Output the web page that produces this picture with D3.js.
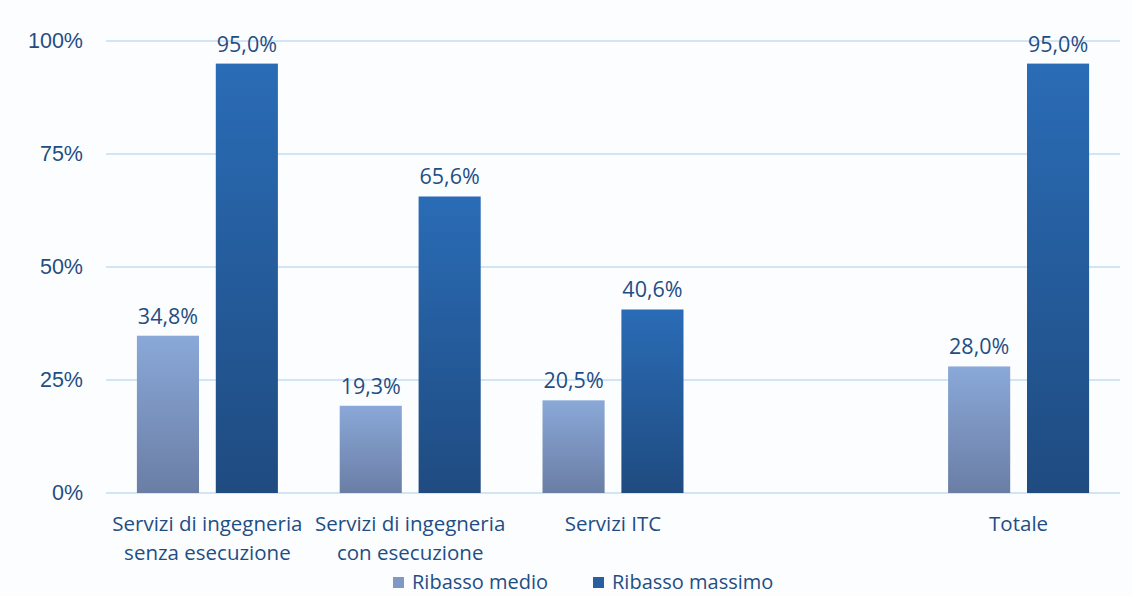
<!DOCTYPE html>
<html>
<head>
<meta charset="utf-8">
<script src="https://cdn.jsdelivr.net/npm/d3@7"></script>
<style>
  body { margin: 0; background: #fcfdff; }
  svg { display: block; font-family: "Open Sans", Lato, sans-serif; }
</style>
</head>
<body>
<svg id="chart" width="1132" height="596"></svg>
<script>
// data
var categories = [
  ["Servizi di ingegneria", "senza esecuzione"],
  ["Servizi di ingegneria", "con esecuzione"],
  ["Servizi ITC"],
  [""],
  ["Totale"]
];
var seriesNames = ["Ribasso medio", "Ribasso massimo"];
var ribassoMedio = [34.8, 19.3, 20.5, null, 28.0];
var ribassoMassimo = [95.0, 65.6, 40.6, null, 95.0];
var yTicks = [0, 25, 50, 75, 100];

var svg = d3.select("#chart"),
    margin = {top: 41, right: 12, bottom: 103, left: 106},
    width = +svg.attr("width") - margin.left - margin.right,
    height = +svg.attr("height") - margin.top - margin.bottom;

var textColor = "#1f4e84";

var defs = svg.append("defs");
function grad(id, top, bottom) {
  var g = defs.append("linearGradient").attr("id", id)
    .attr("x1", 0).attr("y1", 0).attr("x2", 0).attr("y2", 1);
  g.append("stop").attr("offset", "0%").attr("stop-color", top);
  g.append("stop").attr("offset", "100%").attr("stop-color", bottom);
}
grad("gMedio", "#8aa8d8", "#6a7ea5");
grad("gMassimo", "#2a6cb6", "#1f4b80");
var fills = ["url(#gMedio)", "url(#gMassimo)"];
var legendFills = ["#7f98c4", "#2a5f9e"];

var x0 = d3.scaleBand()
  .domain(d3.range(categories.length))
  .range([0, width]);

var x1 = d3.scaleBand()
  .domain([0, 1])
  .range([x0.bandwidth() / 2 - 70.5, x0.bandwidth() / 2 + 70.5])
  .paddingInner(15 / 141 * 2)
  .paddingOuter(0);

var y = d3.scaleLinear().domain([0, 100]).range([height, 0]);

var g = svg.append("g").attr("transform", "translate(" + margin.left + "," + margin.top + ")");

// grid
g.append("g").selectAll("line")
  .data(yTicks)
  .enter().append("line")
    .attr("x1", 0).attr("x2", width)
    .attr("y1", function(d) { return y(d); })
    .attr("y2", function(d) { return y(d); })
    .attr("stroke", "#c5dcf0")
    .attr("stroke-width", 1.5);

// y axis labels
var yAxis = d3.axisLeft(y).tickValues(yTicks)
  .tickFormat(function(d) { return d + "%"; })
  .tickSize(0).tickPadding(23);
var ya = g.append("g").call(yAxis);
ya.select(".domain").remove();
ya.selectAll("text")
  .attr("fill", textColor)
  .style("font-size", "21.5px");

var rows = categories.map(function(c, i) {
  return {i: i, vals: [ribassoMedio[i], ribassoMassimo[i]]};
}).filter(function(r) { return r.vals[0] !== null; });

var fmt = function(v) { return v.toFixed(1).replace(".", ",") + "%"; };

var cat = g.selectAll("g.cat")
  .data(rows)
  .enter().append("g")
    .attr("class", "cat")
    .attr("transform", function(d) { return "translate(" + x0(d.i) + ",0)"; });

var bars = cat.selectAll("g.bar")
  .data(function(d) { return d.vals.map(function(v, k) { return {k: k, v: v}; }); })
  .enter().append("g").attr("class", "bar");

bars.append("rect")
  .attr("x", function(d) { return x1(d.k); })
  .attr("width", x1.bandwidth())
  .attr("y", function(d) { return y(d.v); })
  .attr("height", function(d) { return height - y(d.v); })
  .attr("fill", function(d) { return fills[d.k]; });

bars.append("text")
  .attr("x", function(d) { return x1(d.k) + x1.bandwidth() / 2; })
  .attr("y", function(d) { return y(d.v) - 12; })
  .attr("text-anchor", "middle")
  .attr("fill", textColor)
  .style("font-size", "21.5px")
  .text(function(d) { return fmt(d.v); });

// category labels
var xl = g.append("g").attr("transform", "translate(0," + height + ")");
categories.forEach(function(lines, i) {
  var t = xl.append("text")
    .attr("x", x0(i) + x0.bandwidth() / 2)
    .attr("y", 38)
    .attr("text-anchor", "middle")
    .attr("fill", textColor)
    .style("font-size", "20.5px");
  lines.forEach(function(l, j) {
    t.append("tspan")
      .attr("x", x0(i) + x0.bandwidth() / 2)
      .attr("dy", j === 0 ? 0 : 29)
      .text(l);
  });
});

// legend
var legend = svg.append("g").attr("transform", "translate(393,589)");
var lx = [0, 200];
seriesNames.forEach(function(n, k) {
  var lg = legend.append("g").attr("transform", "translate(" + lx[k] + ",0)");
  lg.append("rect").attr("x", 0).attr("y", -12).attr("width", 11).attr("height", 11)
    .attr("fill", legendFills[k]);
  lg.append("text").attr("x", 19).attr("y", 0)
    .attr("fill", textColor)
    .style("font-size", "20px")
    .text(n);
});
</script>
</body>
</html>
